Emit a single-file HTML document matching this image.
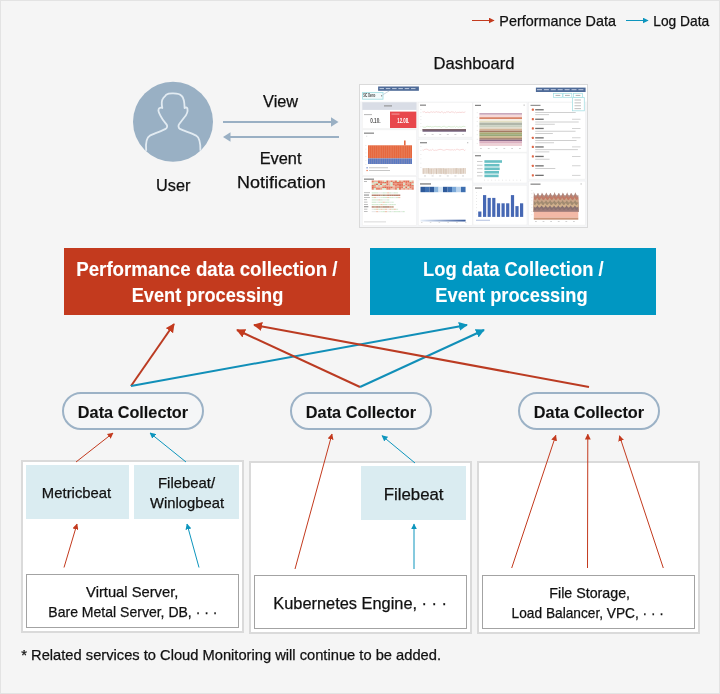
<!DOCTYPE html>
<html><head><meta charset="utf-8">
<style>
html,body{margin:0;padding:0;background:#f5f5f5;}
body{width:720px;height:694px;overflow:hidden;}
svg{display:block;}
text{font-family:"Liberation Sans",sans-serif;}
svg{will-change:transform;}
</style></head>
<body>
<svg width="720" height="694" viewBox="0 0 720 694">
<defs>
  <marker id="mr" viewBox="0 0 10 10" refX="9" refY="5" markerWidth="4.5" markerHeight="4.5" orient="auto" markerUnits="strokeWidth"><path d="M0,0 L10,5 L0,10 z" fill="#c33a1e"/></marker>
  <marker id="mb" viewBox="0 0 10 10" refX="9" refY="5" markerWidth="4.5" markerHeight="4.5" orient="auto" markerUnits="strokeWidth"><path d="M0,0 L10,5 L0,10 z" fill="#0d95bd"/></marker>
  <marker id="mrs" viewBox="0 0 10 10" refX="9" refY="5" markerWidth="6" markerHeight="6" orient="auto" markerUnits="strokeWidth"><path d="M0,0 L10,5 L0,10 z" fill="#c33a1e"/></marker>
  <marker id="mbs" viewBox="0 0 10 10" refX="9" refY="5" markerWidth="6" markerHeight="6" orient="auto" markerUnits="strokeWidth"><path d="M0,0 L10,5 L0,10 z" fill="#0d95bd"/></marker>
</defs>
<!-- background + frame -->
<rect x="0.5" y="0.5" width="719" height="693" fill="#f5f5f5" stroke="#e3e3e3" stroke-width="1"/>

<!-- legend -->
<line x1="472" y1="20.5" x2="494" y2="20.5" stroke="#c33a1e" stroke-width="1" marker-end="url(#mrs)"/>
<line x1="626" y1="20.5" x2="648" y2="20.5" stroke="#0d95bd" stroke-width="1" marker-end="url(#mbs)"/>

<!-- Dashboard label -->

<!-- User -->
<circle cx="173" cy="121.7" r="40" fill="#99b0c4"/>
<path d="M146.2,150.8 C145.5,144 146,138 150,135.6 C155,133 162,131 165.7,128.9 C167.5,127.5 167.5,125.5 166.5,124.5 C164.5,122 162,119 160.4,115.6 C159,113 158,111 158.5,109.5 C159,107.5 161,107.5 162.3,108 C161.5,104 161,101 163,98.5 C164,97 165.2,96.6 166.2,94.7 C168,93.5 171,93.3 173.3,93.4 C177,93.5 180,94 181.5,95.8 C184,98 184.5,102 184.6,108 C185.5,107.3 187,107.2 187.4,108.5 C188,111.5 186.5,115 184.2,117.5 C182.5,120 181,121.5 179.2,124 C178,125.5 178.3,127.8 179.9,128.9 C184,131 191,133 196.1,135.6 C200,138 200.6,144 200.4,150.8" fill="none" stroke="#e2ebf2" stroke-width="1.8" stroke-linejoin="round"/>

<!-- View / Event Notification -->
<line x1="223" y1="122" x2="332" y2="122" stroke="#9ab0c4" stroke-width="2"/>
<path d="M331,117.3 L338.5,122 L331,126.7 z" fill="#9ab0c4"/>
<line x1="230" y1="137" x2="339" y2="137" stroke="#9ab0c4" stroke-width="2"/>
<path d="M230.5,132.3 L223,137 L230.5,141.7 z" fill="#9ab0c4"/>

<!-- DASHBOARD -->
<g id="dash">
<rect x="359.5" y="84.5" width="228" height="143" fill="#f5f6f8" stroke="#dadada" stroke-width="1"/>
<rect x="360.00" y="85.00" width="227.00" height="16.50" fill="#ffffff" />
<rect x="378.10" y="86.50" width="40.80" height="4.30" fill="#4f6b98" />
<rect x="379.50" y="88.00" width="4.50" height="1.10" fill="#b5c3da" />
<rect x="385.80" y="88.00" width="4.50" height="1.10" fill="#b5c3da" />
<rect x="392.10" y="88.00" width="4.50" height="1.10" fill="#b5c3da" />
<rect x="398.40" y="88.00" width="4.50" height="1.10" fill="#b5c3da" />
<rect x="404.70" y="88.00" width="4.50" height="1.10" fill="#b5c3da" />
<rect x="411.00" y="88.00" width="4.50" height="1.10" fill="#b5c3da" />
<rect x="535.90" y="87.60" width="49.70" height="4.40" fill="#4f6b98" />
<rect x="537.00" y="89.10" width="5.00" height="1.10" fill="#b5c3da" />
<rect x="543.90" y="89.10" width="5.00" height="1.10" fill="#b5c3da" />
<rect x="550.80" y="89.10" width="5.00" height="1.10" fill="#b5c3da" />
<rect x="557.70" y="89.10" width="5.00" height="1.10" fill="#b5c3da" />
<rect x="564.60" y="89.10" width="5.00" height="1.10" fill="#b5c3da" />
<rect x="571.50" y="89.10" width="5.00" height="1.10" fill="#b5c3da" />
<rect x="578.40" y="89.10" width="5.00" height="1.10" fill="#b5c3da" />
<rect x="362.6" y="92.4" width="20.4" height="6.8" fill="#f3fbfc" stroke="#9fdde2" stroke-width="0.8"/>
<text x="363.2" y="97.3" font-size="4.6" font-weight="bold" fill="#444" textLength="12" lengthAdjust="spacingAndGlyphs">SIC Demo</text>
<rect x="381.00" y="95.20" width="1.20" height="1.20" fill="#888" />
<path d="M383.2,94.5 L389.5,90.8" stroke="#9ab" stroke-width="0.5" fill="none"/>
<rect x="553.5" y="93.3" width="8.8" height="4" fill="#fff" stroke="#9fdde2" stroke-width="0.7"/>
<rect x="555.50" y="94.90" width="4.80" height="0.90" fill="#aaa" />
<rect x="563" y="93.3" width="8.8" height="4" fill="#fff" stroke="#9fdde2" stroke-width="0.7"/>
<rect x="565.00" y="94.90" width="4.80" height="0.90" fill="#aaa" />
<rect x="573.6" y="93.3" width="8.8" height="4" fill="#fff" stroke="#9fdde2" stroke-width="0.7"/>
<rect x="575.60" y="94.90" width="4.80" height="0.90" fill="#aaa" />
<rect x="362.3" y="102.3" width="54.2" height="26.4" fill="#ffffff" stroke="#ededed" stroke-width="0.5"/>
<rect x="362.3" y="129.9" width="54.2" height="45.6" fill="#ffffff" stroke="#ededed" stroke-width="0.5"/>
<rect x="362.3" y="176.6" width="54.2" height="48.6" fill="#ffffff" stroke="#ededed" stroke-width="0.5"/>
<rect x="418.2" y="102.3" width="54" height="34.8" fill="#ffffff" stroke="#ededed" stroke-width="0.5"/>
<rect x="418.2" y="139.4" width="54" height="39.4" fill="#ffffff" stroke="#ededed" stroke-width="0.5"/>
<rect x="418.2" y="180" width="54" height="45.2" fill="#ffffff" stroke="#ededed" stroke-width="0.5"/>
<rect x="473" y="102.3" width="54" height="49.8" fill="#ffffff" stroke="#ededed" stroke-width="0.5"/>
<rect x="473" y="153" width="54" height="30" fill="#ffffff" stroke="#ededed" stroke-width="0.5"/>
<rect x="473" y="185.2" width="54" height="39.8" fill="#ffffff" stroke="#ededed" stroke-width="0.5"/>
<rect x="528.6" y="102.3" width="56.6" height="76.8" fill="#ffffff" stroke="#ededed" stroke-width="0.5"/>
<rect x="528.6" y="181.1" width="56.6" height="44" fill="#ffffff" stroke="#ededed" stroke-width="0.5"/>
<rect x="362.30" y="102.30" width="54.20" height="7.60" fill="#d9dde6" />
<rect x="384.00" y="105.40" width="8.00" height="1.00" fill="#888" />
<rect x="364.00" y="114.20" width="8.00" height="0.90" fill="#b0b0b0" />
<text x="375.4" y="123.3" font-size="6.3" font-weight="bold" fill="#555" text-anchor="middle" textLength="10.5" lengthAdjust="spacingAndGlyphs">0.10.</text>
<rect x="390.00" y="111.60" width="26.30" height="16.40" fill="#e8474c" />
<rect x="391.50" y="113.60" width="8.00" height="0.90" fill="#f4a9a9" />
<text x="403.3" y="123.3" font-size="6.3" font-weight="bold" fill="#fff" text-anchor="middle" textLength="12" lengthAdjust="spacingAndGlyphs">12.08.</text>
<rect x="364.00" y="132.60" width="10.00" height="1.10" fill="#777" />
<rect x="366.20" y="135.80" width="1.00" height="0.80" fill="#ccc" />
<rect x="368.00" y="145.30" width="44.00" height="13.10" fill="#e6683f" />
<rect x="368.00" y="158.40" width="44.00" height="5.60" fill="#5a7ac2" />
<rect x="369.69" y="145.30" width="0.30" height="18.70" fill="#f3c0a8"  opacity="0.6"/>
<rect x="371.53" y="145.30" width="0.30" height="18.70" fill="#f3c0a8"  opacity="0.6"/>
<rect x="373.37" y="145.30" width="0.30" height="18.70" fill="#f3c0a8"  opacity="0.6"/>
<rect x="375.21" y="145.30" width="0.30" height="18.70" fill="#f3c0a8"  opacity="0.6"/>
<rect x="377.05" y="145.30" width="0.30" height="18.70" fill="#f3c0a8"  opacity="0.6"/>
<rect x="378.89" y="145.30" width="0.30" height="18.70" fill="#f3c0a8"  opacity="0.6"/>
<rect x="380.73" y="145.30" width="0.30" height="18.70" fill="#f3c0a8"  opacity="0.6"/>
<rect x="382.57" y="145.30" width="0.30" height="18.70" fill="#f3c0a8"  opacity="0.6"/>
<rect x="384.41" y="145.30" width="0.30" height="18.70" fill="#f3c0a8"  opacity="0.6"/>
<rect x="386.25" y="145.30" width="0.30" height="18.70" fill="#f3c0a8"  opacity="0.6"/>
<rect x="388.09" y="145.30" width="0.30" height="18.70" fill="#f3c0a8"  opacity="0.6"/>
<rect x="389.93" y="145.30" width="0.30" height="18.70" fill="#f3c0a8"  opacity="0.6"/>
<rect x="391.77" y="145.30" width="0.30" height="18.70" fill="#f3c0a8"  opacity="0.6"/>
<rect x="393.61" y="145.30" width="0.30" height="18.70" fill="#f3c0a8"  opacity="0.6"/>
<rect x="395.45" y="145.30" width="0.30" height="18.70" fill="#f3c0a8"  opacity="0.6"/>
<rect x="397.29" y="145.30" width="0.30" height="18.70" fill="#f3c0a8"  opacity="0.6"/>
<rect x="399.13" y="145.30" width="0.30" height="18.70" fill="#f3c0a8"  opacity="0.6"/>
<rect x="400.97" y="145.30" width="0.30" height="18.70" fill="#f3c0a8"  opacity="0.6"/>
<rect x="402.81" y="145.30" width="0.30" height="18.70" fill="#f3c0a8"  opacity="0.6"/>
<rect x="404.65" y="145.30" width="0.30" height="18.70" fill="#f3c0a8"  opacity="0.6"/>
<rect x="406.49" y="145.30" width="0.30" height="18.70" fill="#f3c0a8"  opacity="0.6"/>
<rect x="408.33" y="145.30" width="0.30" height="18.70" fill="#f3c0a8"  opacity="0.6"/>
<rect x="410.17" y="145.30" width="0.30" height="18.70" fill="#f3c0a8"  opacity="0.6"/>
<rect x="404.00" y="140.50" width="1.60" height="4.90" fill="#e6683f" />
<rect x="365.50" y="145.00" width="0.80" height="0.60" fill="#ccc" />
<rect x="365.50" y="148.80" width="0.80" height="0.60" fill="#ccc" />
<rect x="365.50" y="152.60" width="0.80" height="0.60" fill="#ccc" />
<rect x="365.50" y="156.40" width="0.80" height="0.60" fill="#ccc" />
<rect x="365.50" y="160.20" width="0.80" height="0.60" fill="#ccc" />
<rect x="365.50" y="164.00" width="0.80" height="0.60" fill="#ccc" />
<rect x="366.50" y="167.20" width="1.20" height="1.20" fill="#5a7ac2" />
<rect x="369.00" y="167.40" width="19.00" height="0.80" fill="#b8b8b8" />
<rect x="366.50" y="169.90" width="1.20" height="1.20" fill="#e6683f" />
<rect x="369.00" y="170.10" width="21.00" height="0.80" fill="#b8b8b8" />
<rect x="364.00" y="178.60" width="10.00" height="1.10" fill="#777" />
<rect x="364.00" y="181.20" width="3.00" height="0.80" fill="#aaa" />
<rect x="371.70" y="180.50" width="2.15" height="1.57" fill="#e2765c" />
<rect x="373.80" y="180.50" width="2.15" height="1.57" fill="#ebb29c" />
<rect x="375.90" y="180.50" width="2.15" height="1.57" fill="#ebb29c" />
<rect x="378.00" y="180.50" width="2.15" height="1.57" fill="#e2765c" />
<rect x="380.10" y="180.50" width="2.15" height="1.57" fill="#e8937a" />
<rect x="382.20" y="180.50" width="2.15" height="1.57" fill="#ebb29c" />
<rect x="384.30" y="180.50" width="2.15" height="1.57" fill="#cfe8cc" />
<rect x="386.40" y="180.50" width="2.15" height="1.57" fill="#dd6a50" />
<rect x="388.50" y="180.50" width="2.15" height="1.57" fill="#ebb29c" />
<rect x="390.60" y="180.50" width="2.15" height="1.57" fill="#e2765c" />
<rect x="392.70" y="180.50" width="2.15" height="1.57" fill="#ebb29c" />
<rect x="394.80" y="180.50" width="2.15" height="1.57" fill="#e2765c" />
<rect x="396.90" y="180.50" width="2.15" height="1.57" fill="#cfe8cc" />
<rect x="399.00" y="180.50" width="2.15" height="1.57" fill="#e8937a" />
<rect x="401.10" y="180.50" width="2.15" height="1.57" fill="#ebb29c" />
<rect x="403.20" y="180.50" width="2.15" height="1.57" fill="#e2765c" />
<rect x="405.30" y="180.50" width="2.15" height="1.57" fill="#e2765c" />
<rect x="407.40" y="180.50" width="2.15" height="1.57" fill="#dd6a50" />
<rect x="409.50" y="180.50" width="2.15" height="1.57" fill="#cfe8cc" />
<rect x="411.60" y="180.50" width="2.15" height="1.57" fill="#ebb29c" />
<rect x="371.70" y="182.02" width="2.15" height="1.57" fill="#ebb29c" />
<rect x="373.80" y="182.02" width="2.15" height="1.57" fill="#cfe8cc" />
<rect x="375.90" y="182.02" width="2.15" height="1.57" fill="#cfe8cc" />
<rect x="378.00" y="182.02" width="2.15" height="1.57" fill="#dd6a50" />
<rect x="380.10" y="182.02" width="2.15" height="1.57" fill="#e2765c" />
<rect x="382.20" y="182.02" width="2.15" height="1.57" fill="#e2765c" />
<rect x="384.30" y="182.02" width="2.15" height="1.57" fill="#dd6a50" />
<rect x="386.40" y="182.02" width="2.15" height="1.57" fill="#e2765c" />
<rect x="388.50" y="182.02" width="2.15" height="1.57" fill="#ebb29c" />
<rect x="390.60" y="182.02" width="2.15" height="1.57" fill="#cfe8cc" />
<rect x="392.70" y="182.02" width="2.15" height="1.57" fill="#dd6a50" />
<rect x="394.80" y="182.02" width="2.15" height="1.57" fill="#e2765c" />
<rect x="396.90" y="182.02" width="2.15" height="1.57" fill="#dd6a50" />
<rect x="399.00" y="182.02" width="2.15" height="1.57" fill="#e2765c" />
<rect x="401.10" y="182.02" width="2.15" height="1.57" fill="#e2765c" />
<rect x="403.20" y="182.02" width="2.15" height="1.57" fill="#ebb29c" />
<rect x="405.30" y="182.02" width="2.15" height="1.57" fill="#e2765c" />
<rect x="407.40" y="182.02" width="2.15" height="1.57" fill="#e8937a" />
<rect x="409.50" y="182.02" width="2.15" height="1.57" fill="#e2765c" />
<rect x="411.60" y="182.02" width="2.15" height="1.57" fill="#e8937a" />
<rect x="371.70" y="183.54" width="2.15" height="1.57" fill="#cfe8cc" />
<rect x="373.80" y="183.54" width="2.15" height="1.57" fill="#ebb29c" />
<rect x="375.90" y="183.54" width="2.15" height="1.57" fill="#dd6a50" />
<rect x="378.00" y="183.54" width="2.15" height="1.57" fill="#cfe8cc" />
<rect x="380.10" y="183.54" width="2.15" height="1.57" fill="#dd6a50" />
<rect x="382.20" y="183.54" width="2.15" height="1.57" fill="#cfe8cc" />
<rect x="384.30" y="183.54" width="2.15" height="1.57" fill="#cfe8cc" />
<rect x="386.40" y="183.54" width="2.15" height="1.57" fill="#dd6a50" />
<rect x="388.50" y="183.54" width="2.15" height="1.57" fill="#ebb29c" />
<rect x="390.60" y="183.54" width="2.15" height="1.57" fill="#cfe8cc" />
<rect x="392.70" y="183.54" width="2.15" height="1.57" fill="#e2765c" />
<rect x="394.80" y="183.54" width="2.15" height="1.57" fill="#e8937a" />
<rect x="396.90" y="183.54" width="2.15" height="1.57" fill="#e2765c" />
<rect x="399.00" y="183.54" width="2.15" height="1.57" fill="#e2765c" />
<rect x="401.10" y="183.54" width="2.15" height="1.57" fill="#e2765c" />
<rect x="403.20" y="183.54" width="2.15" height="1.57" fill="#cfe8cc" />
<rect x="405.30" y="183.54" width="2.15" height="1.57" fill="#e2765c" />
<rect x="407.40" y="183.54" width="2.15" height="1.57" fill="#e8937a" />
<rect x="409.50" y="183.54" width="2.15" height="1.57" fill="#dd6a50" />
<rect x="411.60" y="183.54" width="2.15" height="1.57" fill="#cfe8cc" />
<rect x="371.70" y="185.06" width="2.15" height="1.57" fill="#dd6a50" />
<rect x="373.80" y="185.06" width="2.15" height="1.57" fill="#e8937a" />
<rect x="375.90" y="185.06" width="2.15" height="1.57" fill="#cfe8cc" />
<rect x="378.00" y="185.06" width="2.15" height="1.57" fill="#ebb29c" />
<rect x="380.10" y="185.06" width="2.15" height="1.57" fill="#cfe8cc" />
<rect x="382.20" y="185.06" width="2.15" height="1.57" fill="#ebb29c" />
<rect x="384.30" y="185.06" width="2.15" height="1.57" fill="#e8937a" />
<rect x="386.40" y="185.06" width="2.15" height="1.57" fill="#ebb29c" />
<rect x="388.50" y="185.06" width="2.15" height="1.57" fill="#ebb29c" />
<rect x="390.60" y="185.06" width="2.15" height="1.57" fill="#cfe8cc" />
<rect x="392.70" y="185.06" width="2.15" height="1.57" fill="#ebb29c" />
<rect x="394.80" y="185.06" width="2.15" height="1.57" fill="#e2765c" />
<rect x="396.90" y="185.06" width="2.15" height="1.57" fill="#e8937a" />
<rect x="399.00" y="185.06" width="2.15" height="1.57" fill="#dd6a50" />
<rect x="401.10" y="185.06" width="2.15" height="1.57" fill="#e2765c" />
<rect x="403.20" y="185.06" width="2.15" height="1.57" fill="#e8937a" />
<rect x="405.30" y="185.06" width="2.15" height="1.57" fill="#ebb29c" />
<rect x="407.40" y="185.06" width="2.15" height="1.57" fill="#dd6a50" />
<rect x="409.50" y="185.06" width="2.15" height="1.57" fill="#dd6a50" />
<rect x="411.60" y="185.06" width="2.15" height="1.57" fill="#e2765c" />
<rect x="371.70" y="186.58" width="2.15" height="1.57" fill="#dd6a50" />
<rect x="373.80" y="186.58" width="2.15" height="1.57" fill="#e8937a" />
<rect x="375.90" y="186.58" width="2.15" height="1.57" fill="#ebb29c" />
<rect x="378.00" y="186.58" width="2.15" height="1.57" fill="#ebb29c" />
<rect x="380.10" y="186.58" width="2.15" height="1.57" fill="#ebb29c" />
<rect x="382.20" y="186.58" width="2.15" height="1.57" fill="#e2765c" />
<rect x="384.30" y="186.58" width="2.15" height="1.57" fill="#dd6a50" />
<rect x="386.40" y="186.58" width="2.15" height="1.57" fill="#dd6a50" />
<rect x="388.50" y="186.58" width="2.15" height="1.57" fill="#e2765c" />
<rect x="390.60" y="186.58" width="2.15" height="1.57" fill="#dd6a50" />
<rect x="392.70" y="186.58" width="2.15" height="1.57" fill="#ebb29c" />
<rect x="394.80" y="186.58" width="2.15" height="1.57" fill="#e8937a" />
<rect x="396.90" y="186.58" width="2.15" height="1.57" fill="#e8937a" />
<rect x="399.00" y="186.58" width="2.15" height="1.57" fill="#e2765c" />
<rect x="401.10" y="186.58" width="2.15" height="1.57" fill="#e2765c" />
<rect x="403.20" y="186.58" width="2.15" height="1.57" fill="#cfe8cc" />
<rect x="405.30" y="186.58" width="2.15" height="1.57" fill="#dd6a50" />
<rect x="407.40" y="186.58" width="2.15" height="1.57" fill="#cfe8cc" />
<rect x="409.50" y="186.58" width="2.15" height="1.57" fill="#e2765c" />
<rect x="411.60" y="186.58" width="2.15" height="1.57" fill="#e8937a" />
<rect x="371.70" y="188.10" width="2.15" height="1.57" fill="#e2765c" />
<rect x="373.80" y="188.10" width="2.15" height="1.57" fill="#cfe8cc" />
<rect x="375.90" y="188.10" width="2.15" height="1.57" fill="#e2765c" />
<rect x="378.00" y="188.10" width="2.15" height="1.57" fill="#e2765c" />
<rect x="380.10" y="188.10" width="2.15" height="1.57" fill="#e8937a" />
<rect x="382.20" y="188.10" width="2.15" height="1.57" fill="#cfe8cc" />
<rect x="384.30" y="188.10" width="2.15" height="1.57" fill="#cfe8cc" />
<rect x="386.40" y="188.10" width="2.15" height="1.57" fill="#e2765c" />
<rect x="388.50" y="188.10" width="2.15" height="1.57" fill="#e2765c" />
<rect x="390.60" y="188.10" width="2.15" height="1.57" fill="#ebb29c" />
<rect x="392.70" y="188.10" width="2.15" height="1.57" fill="#ebb29c" />
<rect x="394.80" y="188.10" width="2.15" height="1.57" fill="#e2765c" />
<rect x="396.90" y="188.10" width="2.15" height="1.57" fill="#cfe8cc" />
<rect x="399.00" y="188.10" width="2.15" height="1.57" fill="#dd6a50" />
<rect x="401.10" y="188.10" width="2.15" height="1.57" fill="#ebb29c" />
<rect x="403.20" y="188.10" width="2.15" height="1.57" fill="#e8937a" />
<rect x="405.30" y="188.10" width="2.15" height="1.57" fill="#ebb29c" />
<rect x="407.40" y="188.10" width="2.15" height="1.57" fill="#e8937a" />
<rect x="409.50" y="188.10" width="2.15" height="1.57" fill="#ebb29c" />
<rect x="411.60" y="188.10" width="2.15" height="1.57" fill="#e2765c" />
<rect x="364.00" y="192.30" width="6.00" height="0.80" fill="#b0b0b0" />
<rect x="371.70" y="192.30" width="2.20" height="1.10" fill="#cfe9cf" />
<rect x="373.90" y="192.30" width="2.20" height="1.10" fill="#cfe9cf" />
<rect x="376.10" y="192.30" width="2.20" height="1.10" fill="#cfe9cf" />
<rect x="378.30" y="192.30" width="2.20" height="1.10" fill="#e8e8e8" />
<rect x="380.50" y="192.30" width="2.20" height="1.10" fill="#e8e8e8" />
<rect x="382.70" y="192.30" width="2.20" height="1.10" fill="#cfe9cf" />
<rect x="384.90" y="192.30" width="2.20" height="1.10" fill="#d8eed8" />
<rect x="387.10" y="192.30" width="2.20" height="1.10" fill="#f0c4b0" />
<rect x="389.30" y="192.30" width="2.20" height="1.10" fill="#cfe9cf" />
<rect x="391.50" y="192.30" width="2.20" height="1.10" fill="#e8e8e8" />
<rect x="393.70" y="192.30" width="2.20" height="1.10" fill="#cfe9cf" />
<rect x="395.90" y="192.30" width="2.20" height="1.10" fill="#d8eed8" />
<rect x="364.00" y="194.65" width="5.07" height="0.80" fill="#666" />
<rect x="371.70" y="194.65" width="2.20" height="1.10" fill="#a05a40" />
<rect x="373.90" y="194.65" width="2.20" height="1.10" fill="#a05a40" />
<rect x="376.10" y="194.65" width="2.20" height="1.10" fill="#a05a40" />
<rect x="378.30" y="194.65" width="2.20" height="1.10" fill="#a05a40" />
<rect x="380.50" y="194.65" width="2.20" height="1.10" fill="#b08060" />
<rect x="382.70" y="194.65" width="2.20" height="1.10" fill="#8a6a50" />
<rect x="384.90" y="194.65" width="2.20" height="1.10" fill="#b08060" />
<rect x="387.10" y="194.65" width="2.20" height="1.10" fill="#a05a40" />
<rect x="389.30" y="194.65" width="2.20" height="1.10" fill="#a05a40" />
<rect x="391.50" y="194.65" width="2.20" height="1.10" fill="#a05a40" />
<rect x="393.70" y="194.65" width="2.20" height="1.10" fill="#a05a40" />
<rect x="395.90" y="194.65" width="2.20" height="1.10" fill="#a05a40" />
<rect x="398.10" y="194.65" width="2.20" height="1.10" fill="#a05a40" />
<rect x="364.00" y="197.00" width="5.96" height="0.80" fill="#b0b0b0" />
<rect x="371.70" y="197.00" width="2.20" height="1.10" fill="#cfe9cf" />
<rect x="373.90" y="197.00" width="2.20" height="1.10" fill="#f0c4b0" />
<rect x="376.10" y="197.00" width="2.20" height="1.10" fill="#e8e8e8" />
<rect x="378.30" y="197.00" width="2.20" height="1.10" fill="#e8e8e8" />
<rect x="380.50" y="197.00" width="2.20" height="1.10" fill="#d8eed8" />
<rect x="382.70" y="197.00" width="2.20" height="1.10" fill="#cfe9cf" />
<rect x="384.90" y="197.00" width="2.20" height="1.10" fill="#cfe9cf" />
<rect x="387.10" y="197.00" width="2.20" height="1.10" fill="#f0c4b0" />
<rect x="389.30" y="197.00" width="2.20" height="1.10" fill="#cfe9cf" />
<rect x="391.50" y="197.00" width="2.20" height="1.10" fill="#cfe9cf" />
<rect x="393.70" y="197.00" width="2.20" height="1.10" fill="#e8e8e8" />
<rect x="395.90" y="197.00" width="2.20" height="1.10" fill="#cfe9cf" />
<rect x="398.10" y="197.00" width="2.20" height="1.10" fill="#f0c4b0" />
<rect x="364.00" y="199.35" width="3.07" height="0.80" fill="#b0b0b0" />
<rect x="371.70" y="199.35" width="2.20" height="1.10" fill="#cfe9cf" />
<rect x="373.90" y="199.35" width="2.20" height="1.10" fill="#cfe9cf" />
<rect x="376.10" y="199.35" width="2.20" height="1.10" fill="#cfe9cf" />
<rect x="378.30" y="199.35" width="2.20" height="1.10" fill="#f0c4b0" />
<rect x="380.50" y="199.35" width="2.20" height="1.10" fill="#cfe9cf" />
<rect x="382.70" y="199.35" width="2.20" height="1.10" fill="#e8e8e8" />
<rect x="384.90" y="199.35" width="2.20" height="1.10" fill="#e8e8e8" />
<rect x="387.10" y="199.35" width="2.20" height="1.10" fill="#cfe9cf" />
<rect x="364.00" y="201.70" width="3.53" height="0.80" fill="#b0b0b0" />
<rect x="371.70" y="201.70" width="2.20" height="1.10" fill="#cfe9cf" />
<rect x="373.90" y="201.70" width="2.20" height="1.10" fill="#cfe9cf" />
<rect x="376.10" y="201.70" width="2.20" height="1.10" fill="#e8e8e8" />
<rect x="378.30" y="201.70" width="2.20" height="1.10" fill="#cfe9cf" />
<rect x="380.50" y="201.70" width="2.20" height="1.10" fill="#cfe9cf" />
<rect x="382.70" y="201.70" width="2.20" height="1.10" fill="#f0c4b0" />
<rect x="384.90" y="201.70" width="2.20" height="1.10" fill="#cfe9cf" />
<rect x="387.10" y="201.70" width="2.20" height="1.10" fill="#cfe9cf" />
<rect x="389.30" y="201.70" width="2.20" height="1.10" fill="#e8e8e8" />
<rect x="391.50" y="201.70" width="2.20" height="1.10" fill="#d8eed8" />
<rect x="364.00" y="204.05" width="3.93" height="0.80" fill="#b0b0b0" />
<rect x="371.70" y="204.05" width="2.20" height="1.10" fill="#cfe9cf" />
<rect x="373.90" y="204.05" width="2.20" height="1.10" fill="#d8eed8" />
<rect x="376.10" y="204.05" width="2.20" height="1.10" fill="#cfe9cf" />
<rect x="378.30" y="204.05" width="2.20" height="1.10" fill="#d8eed8" />
<rect x="380.50" y="204.05" width="2.20" height="1.10" fill="#f0c4b0" />
<rect x="382.70" y="204.05" width="2.20" height="1.10" fill="#cfe9cf" />
<rect x="384.90" y="204.05" width="2.20" height="1.10" fill="#cfe9cf" />
<rect x="387.10" y="204.05" width="2.20" height="1.10" fill="#e8e8e8" />
<rect x="389.30" y="204.05" width="2.20" height="1.10" fill="#cfe9cf" />
<rect x="391.50" y="204.05" width="2.20" height="1.10" fill="#cfe9cf" />
<rect x="393.70" y="204.05" width="2.20" height="1.10" fill="#d8eed8" />
<rect x="364.00" y="206.40" width="4.32" height="0.80" fill="#666" />
<rect x="371.70" y="206.40" width="2.20" height="1.10" fill="#a05a40" />
<rect x="373.90" y="206.40" width="2.20" height="1.10" fill="#b08060" />
<rect x="376.10" y="206.40" width="2.20" height="1.10" fill="#a05a40" />
<rect x="378.30" y="206.40" width="2.20" height="1.10" fill="#8a6a50" />
<rect x="380.50" y="206.40" width="2.20" height="1.10" fill="#b08060" />
<rect x="382.70" y="206.40" width="2.20" height="1.10" fill="#a05a40" />
<rect x="384.90" y="206.40" width="2.20" height="1.10" fill="#8a6a50" />
<rect x="387.10" y="206.40" width="2.20" height="1.10" fill="#a05a40" />
<rect x="389.30" y="206.40" width="2.20" height="1.10" fill="#b08060" />
<rect x="391.50" y="206.40" width="2.20" height="1.10" fill="#b08060" />
<rect x="364.00" y="208.75" width="3.39" height="0.80" fill="#b0b0b0" />
<rect x="371.70" y="208.75" width="2.20" height="1.10" fill="#e8e8e8" />
<rect x="373.90" y="208.75" width="2.20" height="1.10" fill="#cfe9cf" />
<rect x="376.10" y="208.75" width="2.20" height="1.10" fill="#f0c4b0" />
<rect x="378.30" y="208.75" width="2.20" height="1.10" fill="#cfe9cf" />
<rect x="380.50" y="208.75" width="2.20" height="1.10" fill="#f0c4b0" />
<rect x="382.70" y="208.75" width="2.20" height="1.10" fill="#cfe9cf" />
<rect x="384.90" y="208.75" width="2.20" height="1.10" fill="#f0c4b0" />
<rect x="387.10" y="208.75" width="2.20" height="1.10" fill="#e8e8e8" />
<rect x="389.30" y="208.75" width="2.20" height="1.10" fill="#f0c4b0" />
<rect x="391.50" y="208.75" width="2.20" height="1.10" fill="#cfe9cf" />
<rect x="393.70" y="208.75" width="2.20" height="1.10" fill="#f0c4b0" />
<rect x="395.90" y="208.75" width="2.20" height="1.10" fill="#d8eed8" />
<rect x="364.00" y="211.10" width="3.60" height="0.80" fill="#b0b0b0" />
<rect x="371.70" y="211.10" width="2.20" height="1.10" fill="#e8e8e8" />
<rect x="373.90" y="211.10" width="2.20" height="1.10" fill="#e8e8e8" />
<rect x="376.10" y="211.10" width="2.20" height="1.10" fill="#f0c4b0" />
<rect x="378.30" y="211.10" width="2.20" height="1.10" fill="#e8e8e8" />
<rect x="380.50" y="211.10" width="2.20" height="1.10" fill="#d8eed8" />
<rect x="382.70" y="211.10" width="2.20" height="1.10" fill="#cfe9cf" />
<rect x="384.90" y="211.10" width="2.20" height="1.10" fill="#f0c4b0" />
<rect x="387.10" y="211.10" width="2.20" height="1.10" fill="#e8e8e8" />
<rect x="389.30" y="211.10" width="2.20" height="1.10" fill="#cfe9cf" />
<rect x="391.50" y="211.10" width="2.20" height="1.10" fill="#e8e8e8" />
<rect x="393.70" y="211.10" width="2.20" height="1.10" fill="#cfe9cf" />
<rect x="395.90" y="211.10" width="2.20" height="1.10" fill="#d8eed8" />
<rect x="398.10" y="211.10" width="2.20" height="1.10" fill="#cfe9cf" />
<rect x="400.30" y="211.10" width="2.20" height="1.10" fill="#e8e8e8" />
<rect x="402.50" y="211.10" width="2.20" height="1.10" fill="#cfe9cf" />
<rect x="364.00" y="221.50" width="22.00" height="0.80" fill="#d0d0d0" />
<rect x="420.00" y="104.60" width="6.00" height="1.10" fill="#777" />
<rect x="420.50" y="109.00" width="0.80" height="0.60" fill="#d0d0d0" />
<rect x="420.50" y="112.50" width="0.80" height="0.60" fill="#d0d0d0" />
<rect x="420.50" y="116.00" width="0.80" height="0.60" fill="#d0d0d0" />
<rect x="420.50" y="119.50" width="0.80" height="0.60" fill="#d0d0d0" />
<rect x="420.50" y="123.00" width="0.80" height="0.60" fill="#d0d0d0" />
<rect x="420.50" y="126.50" width="0.80" height="0.60" fill="#d0d0d0" />
<rect x="420.50" y="130.00" width="0.80" height="0.60" fill="#d0d0d0" />
<polyline points="422.5,111.8 423.6,112.0 424.7,111.7 425.8,112.7 426.9,112.3 428.0,111.9 429.1,112.8 430.2,112.2 431.3,111.8 432.4,112.3 433.5,111.8 434.6,112.3 435.7,112.0 436.8,111.7 437.9,112.3 439.0,111.8 440.1,112.8 441.2,111.8 442.3,111.9 443.4,112.9 444.5,112.3 445.6,112.7 446.7,111.8 447.8,112.0 448.9,111.8 450.0,112.8 451.1,111.8 452.2,112.0 453.3,112.0 454.4,112.8 455.5,111.9 456.6,112.8 457.7,112.3 458.8,112.4 459.9,112.2 461.0,112.6 462.1,112.0 463.2,112.4 464.3,112.3 465.4,111.8" fill="none" stroke="#eeb0b0" stroke-width="0.5"/>
<polyline points="422.5,126.6 423.6,127.1 424.7,127.2 425.8,127.1 426.9,126.3 428.0,126.3 429.1,126.8 430.2,126.3 431.3,127.0 432.4,126.8 433.5,126.8 434.6,126.5 435.7,126.4 436.8,126.7 437.9,126.7 439.0,126.6 440.1,126.6 441.2,127.3 442.3,126.7 443.4,126.4 444.5,126.3 445.6,127.0 446.7,127.1 447.8,126.9 448.9,126.3 450.0,126.8 451.1,127.0 452.2,126.8 453.3,126.9 454.4,126.3 455.5,127.2 456.6,126.4 457.7,126.9 458.8,127.1 459.9,126.6 461.0,127.3 462.1,126.7 463.2,126.3 464.3,126.5 465.4,126.6" fill="none" stroke="#b5dca8" stroke-width="0.5"/>
<rect x="422.50" y="129.00" width="43.50" height="2.70" fill="#6e5a7a" />
<rect x="422.50" y="129.40" width="43.50" height="0.90" fill="#8a7060" />
<rect x="424.00" y="134.00" width="2.00" height="0.70" fill="#c0c0c0" />
<rect x="431.60" y="134.00" width="2.00" height="0.70" fill="#c0c0c0" />
<rect x="439.20" y="134.00" width="2.00" height="0.70" fill="#c0c0c0" />
<rect x="446.80" y="134.00" width="2.00" height="0.70" fill="#c0c0c0" />
<rect x="454.40" y="134.00" width="2.00" height="0.70" fill="#c0c0c0" />
<rect x="462.00" y="134.00" width="2.00" height="0.70" fill="#c0c0c0" />
<rect x="420.00" y="142.20" width="7.00" height="1.10" fill="#777" />
<rect x="467.00" y="142.00" width="1.30" height="1.30" fill="#c8c8c8" />
<polyline points="422.5,149.9 423.6,150.2 424.7,149.4 425.8,149.3 426.9,149.1 428.0,149.6 429.1,150.5 430.2,149.9 431.3,150.3 432.4,149.3 433.5,150.1 434.6,150.4 435.7,150.1 436.8,150.3 437.9,149.8 439.0,149.6 440.1,149.3 441.2,149.5 442.3,149.8 443.4,150.2 444.5,150.1 445.6,149.8 446.7,149.4 447.8,149.6 448.9,149.8 450.0,149.9 451.1,150.0 452.2,149.6 453.3,150.2 454.4,149.6 455.5,150.3 456.6,149.1 457.7,149.3 458.8,149.8 459.9,150.1 461.0,149.5 462.1,149.5 463.2,149.2 464.3,150.5 465.4,149.9" fill="none" stroke="#f0b4b4" stroke-width="0.5"/>
<rect x="420.50" y="146.00" width="0.80" height="0.60" fill="#d0d0d0" />
<rect x="420.50" y="150.20" width="0.80" height="0.60" fill="#d0d0d0" />
<rect x="420.50" y="154.40" width="0.80" height="0.60" fill="#d0d0d0" />
<rect x="420.50" y="158.60" width="0.80" height="0.60" fill="#d0d0d0" />
<rect x="420.50" y="162.80" width="0.80" height="0.60" fill="#d0d0d0" />
<rect x="420.50" y="167.00" width="0.80" height="0.60" fill="#d0d0d0" />
<rect x="422.50" y="168.00" width="43.50" height="5.80" fill="#ece4dc" />
<rect x="422.80" y="168.42" width="0.90" height="5.50" fill="#d8c4b4" />
<rect x="424.48" y="168.09" width="0.90" height="5.50" fill="#e2d2c4" />
<rect x="426.16" y="168.08" width="0.90" height="5.50" fill="#e2d2c4" />
<rect x="427.84" y="168.05" width="0.90" height="5.50" fill="#cdb9a8" />
<rect x="429.52" y="168.70" width="0.90" height="5.50" fill="#d8c4b4" />
<rect x="431.20" y="168.66" width="0.90" height="5.50" fill="#d8c4b4" />
<rect x="432.88" y="168.80" width="0.90" height="5.50" fill="#e2d2c4" />
<rect x="434.56" y="168.20" width="0.90" height="5.50" fill="#e2d2c4" />
<rect x="436.24" y="168.56" width="0.90" height="5.50" fill="#cdb9a8" />
<rect x="437.92" y="168.20" width="0.90" height="5.50" fill="#e2d2c4" />
<rect x="439.60" y="168.32" width="0.90" height="5.50" fill="#cdb9a8" />
<rect x="441.28" y="168.45" width="0.90" height="5.50" fill="#d8c4b4" />
<rect x="442.96" y="168.30" width="0.90" height="5.50" fill="#d8c4b4" />
<rect x="444.64" y="168.78" width="0.90" height="5.50" fill="#cdb9a8" />
<rect x="446.32" y="168.67" width="0.90" height="5.50" fill="#d8c4b4" />
<rect x="448.00" y="168.33" width="0.90" height="5.50" fill="#e2d2c4" />
<rect x="449.68" y="168.60" width="0.90" height="5.50" fill="#e2d2c4" />
<rect x="451.36" y="168.74" width="0.90" height="5.50" fill="#e2d2c4" />
<rect x="453.04" y="168.39" width="0.90" height="5.50" fill="#e2d2c4" />
<rect x="454.72" y="168.32" width="0.90" height="5.50" fill="#d8c4b4" />
<rect x="456.40" y="168.13" width="0.90" height="5.50" fill="#cdb9a8" />
<rect x="458.08" y="168.60" width="0.90" height="5.50" fill="#e2d2c4" />
<rect x="459.76" y="168.41" width="0.90" height="5.50" fill="#cdb9a8" />
<rect x="461.44" y="168.47" width="0.90" height="5.50" fill="#d8c4b4" />
<rect x="463.12" y="168.11" width="0.90" height="5.50" fill="#d8c4b4" />
<rect x="464.80" y="168.12" width="0.90" height="5.50" fill="#e2d2c4" />
<rect x="424.00" y="175.60" width="2.00" height="0.70" fill="#c0c0c0" />
<rect x="431.60" y="175.60" width="2.00" height="0.70" fill="#c0c0c0" />
<rect x="439.20" y="175.60" width="2.00" height="0.70" fill="#c0c0c0" />
<rect x="446.80" y="175.60" width="2.00" height="0.70" fill="#c0c0c0" />
<rect x="454.40" y="175.60" width="2.00" height="0.70" fill="#c0c0c0" />
<rect x="462.00" y="175.60" width="2.00" height="0.70" fill="#c0c0c0" />
<rect x="420.00" y="183.40" width="11.00" height="1.10" fill="#666" />
<rect x="420.50" y="186.80" width="4.55" height="5.40" fill="#2e5a9a" />
<rect x="425.00" y="186.80" width="4.55" height="5.40" fill="#3e6fb0" />
<rect x="429.50" y="186.80" width="4.55" height="5.40" fill="#2e5a9a" />
<rect x="434.00" y="186.80" width="4.55" height="5.40" fill="#8ab4dc" />
<rect x="438.50" y="186.80" width="4.55" height="5.40" fill="#d6e6f4" />
<rect x="443.00" y="186.80" width="4.55" height="5.40" fill="#2e5a9a" />
<rect x="447.50" y="186.80" width="4.55" height="5.40" fill="#3e6fb0" />
<rect x="452.00" y="186.80" width="4.55" height="5.40" fill="#7aa8d8" />
<rect x="456.50" y="186.80" width="4.55" height="5.40" fill="#b8d2ec" />
<rect x="461.00" y="186.80" width="4.55" height="5.40" fill="#3e6fb0" />
<defs><linearGradient id="gg" x1="0" x2="1"><stop offset="0" stop-color="#e8f0fa"/><stop offset="1" stop-color="#38599a"/></linearGradient></defs>
<rect x="420.50" y="219.70" width="45.10" height="1.80" fill="url(#gg)" />
<rect x="421.00" y="222.20" width="1.50" height="0.60" fill="#c8c8c8" />
<rect x="429.80" y="222.20" width="1.50" height="0.60" fill="#c8c8c8" />
<rect x="438.60" y="222.20" width="1.50" height="0.60" fill="#c8c8c8" />
<rect x="447.40" y="222.20" width="1.50" height="0.60" fill="#c8c8c8" />
<rect x="456.20" y="222.20" width="1.50" height="0.60" fill="#c8c8c8" />
<rect x="465.00" y="222.20" width="1.50" height="0.60" fill="#c8c8c8" />
<rect x="475.00" y="104.80" width="6.00" height="1.10" fill="#777" />
<rect x="523.50" y="104.50" width="1.30" height="1.30" fill="#c8c8c8" />
<rect x="479.40" y="113.00" width="42.60" height="1.80" fill="#c8a8bc" />
<rect x="479.40" y="114.80" width="42.60" height="2.40" fill="#f6d8d8" />
<rect x="479.40" y="117.20" width="42.60" height="2.00" fill="#d88468" />
<rect x="479.40" y="119.20" width="42.60" height="1.60" fill="#f4ede4" />
<rect x="479.40" y="120.80" width="42.60" height="1.80" fill="#e4e0c4" />
<rect x="479.40" y="122.60" width="42.60" height="2.60" fill="#b0b6aa" />
<rect x="479.40" y="125.20" width="42.60" height="2.00" fill="#c9d0c0" />
<rect x="479.40" y="127.20" width="42.60" height="1.60" fill="#dcd8c8" />
<rect x="479.40" y="128.80" width="42.60" height="1.80" fill="#d6b498" />
<rect x="479.40" y="130.60" width="42.60" height="1.80" fill="#a47a64" />
<rect x="479.40" y="132.40" width="42.60" height="1.80" fill="#a9ab74" />
<rect x="479.40" y="134.20" width="42.60" height="2.00" fill="#98a878" />
<rect x="479.40" y="136.20" width="42.60" height="1.80" fill="#cbb58c" />
<rect x="479.40" y="138.00" width="42.60" height="1.80" fill="#a88878" />
<rect x="479.40" y="139.80" width="42.60" height="1.40" fill="#8a6a88" />
<rect x="479.40" y="141.20" width="42.60" height="2.40" fill="#dcb0c0" />
<rect x="479.40" y="143.60" width="42.60" height="2.40" fill="#eed2d6" />
<rect x="476.80" y="112.50" width="0.80" height="0.60" fill="#ccc" />
<rect x="476.80" y="116.90" width="0.80" height="0.60" fill="#ccc" />
<rect x="476.80" y="121.30" width="0.80" height="0.60" fill="#ccc" />
<rect x="476.80" y="125.70" width="0.80" height="0.60" fill="#ccc" />
<rect x="476.80" y="130.10" width="0.80" height="0.60" fill="#ccc" />
<rect x="476.80" y="134.50" width="0.80" height="0.60" fill="#ccc" />
<rect x="476.80" y="138.90" width="0.80" height="0.60" fill="#ccc" />
<rect x="476.80" y="143.30" width="0.80" height="0.60" fill="#ccc" />
<rect x="480.00" y="148.00" width="1.80" height="0.70" fill="#c0c0c0" />
<rect x="487.80" y="148.00" width="1.80" height="0.70" fill="#c0c0c0" />
<rect x="495.60" y="148.00" width="1.80" height="0.70" fill="#c0c0c0" />
<rect x="503.40" y="148.00" width="1.80" height="0.70" fill="#c0c0c0" />
<rect x="511.20" y="148.00" width="1.80" height="0.70" fill="#c0c0c0" />
<rect x="519.00" y="148.00" width="1.80" height="0.70" fill="#c0c0c0" />
<rect x="475.00" y="155.20" width="6.00" height="1.10" fill="#777" />
<rect x="484.40" y="160.20" width="17.60" height="2.60" fill="#68c0c4" />
<rect x="477.00" y="161.10" width="5.50" height="0.80" fill="#c0c0c0" />
<rect x="484.40" y="163.90" width="15.10" height="2.60" fill="#68c0c4" />
<rect x="477.00" y="164.80" width="5.50" height="0.80" fill="#c0c0c0" />
<rect x="484.40" y="167.50" width="15.30" height="2.60" fill="#68c0c4" />
<rect x="477.00" y="168.40" width="5.50" height="0.80" fill="#c0c0c0" />
<rect x="484.40" y="171.00" width="14.60" height="2.60" fill="#68c0c4" />
<rect x="477.00" y="171.90" width="5.50" height="0.80" fill="#c0c0c0" />
<rect x="484.40" y="174.60" width="14.20" height="2.60" fill="#68c0c4" />
<rect x="477.00" y="175.50" width="5.50" height="0.80" fill="#c0c0c0" />
<rect x="484.00" y="179.80" width="0.90" height="0.60" fill="#d0d0d0" />
<rect x="487.60" y="179.80" width="0.90" height="0.60" fill="#d0d0d0" />
<rect x="491.20" y="179.80" width="0.90" height="0.60" fill="#d0d0d0" />
<rect x="494.80" y="179.80" width="0.90" height="0.60" fill="#d0d0d0" />
<rect x="498.40" y="179.80" width="0.90" height="0.60" fill="#d0d0d0" />
<rect x="502.00" y="179.80" width="0.90" height="0.60" fill="#d0d0d0" />
<rect x="505.60" y="179.80" width="0.90" height="0.60" fill="#d0d0d0" />
<rect x="509.20" y="179.80" width="0.90" height="0.60" fill="#d0d0d0" />
<rect x="512.80" y="179.80" width="0.90" height="0.60" fill="#d0d0d0" />
<rect x="516.40" y="179.80" width="0.90" height="0.60" fill="#d0d0d0" />
<rect x="520.00" y="179.80" width="0.90" height="0.60" fill="#d0d0d0" />
<rect x="475.00" y="187.50" width="7.00" height="1.10" fill="#666" />
<rect x="478.20" y="211.50" width="3.20" height="5.40" fill="#4668b4" />
<rect x="483.00" y="195.10" width="3.20" height="21.80" fill="#4668b4" />
<rect x="487.60" y="197.90" width="3.20" height="19.00" fill="#4668b4" />
<rect x="492.20" y="197.90" width="3.20" height="19.00" fill="#4668b4" />
<rect x="496.90" y="203.30" width="3.20" height="13.60" fill="#4668b4" />
<rect x="501.50" y="203.30" width="3.20" height="13.60" fill="#4668b4" />
<rect x="506.10" y="203.30" width="3.20" height="13.60" fill="#4668b4" />
<rect x="510.90" y="195.10" width="3.20" height="21.80" fill="#4668b4" />
<rect x="515.40" y="206.10" width="3.20" height="10.80" fill="#4668b4" />
<rect x="520.00" y="203.30" width="3.20" height="13.60" fill="#4668b4" />
<rect x="476.00" y="192.00" width="0.80" height="0.60" fill="#d0d0d0" />
<rect x="476.00" y="195.10" width="0.80" height="0.60" fill="#d0d0d0" />
<rect x="476.00" y="198.20" width="0.80" height="0.60" fill="#d0d0d0" />
<rect x="476.00" y="201.30" width="0.80" height="0.60" fill="#d0d0d0" />
<rect x="476.00" y="204.40" width="0.80" height="0.60" fill="#d0d0d0" />
<rect x="476.00" y="207.50" width="0.80" height="0.60" fill="#d0d0d0" />
<rect x="476.00" y="210.60" width="0.80" height="0.60" fill="#d0d0d0" />
<rect x="476.00" y="213.70" width="0.80" height="0.60" fill="#d0d0d0" />
<rect x="476.00" y="219.80" width="14.00" height="0.80" fill="#9fb0d8" />
<rect x="530.50" y="104.80" width="10.00" height="1.10" fill="#888" />
<rect x="531.8" y="108.6" width="2.1" height="2.2" rx="0.6" fill="#e06848"/>
<rect x="535.20" y="109.10" width="8.50" height="1.30" fill="#707070" />
<rect x="535.20" y="112.10" width="40.52" height="0.80" fill="#c4c4c4" />
<rect x="535.20" y="114.30" width="13.86" height="0.80" fill="#c4c4c4" />
<rect x="531.8" y="118.1" width="2.1" height="2.2" rx="0.6" fill="#e06848"/>
<rect x="535.20" y="118.60" width="8.50" height="1.30" fill="#707070" />
<rect x="572.00" y="118.80" width="8.50" height="0.80" fill="#c8c8c8" />
<rect x="535.20" y="121.60" width="43.53" height="0.80" fill="#c4c4c4" />
<rect x="535.20" y="123.80" width="19.63" height="0.80" fill="#c4c4c4" />
<rect x="531.8" y="127.3" width="2.1" height="2.2" rx="0.6" fill="#e06848"/>
<rect x="535.20" y="127.80" width="8.50" height="1.30" fill="#707070" />
<rect x="572.00" y="128.00" width="8.50" height="0.80" fill="#c8c8c8" />
<rect x="535.20" y="130.80" width="40.37" height="0.80" fill="#c4c4c4" />
<rect x="535.20" y="133.00" width="17.64" height="0.80" fill="#c4c4c4" />
<rect x="531.8" y="136.7" width="2.1" height="2.2" rx="0.6" fill="#e06848"/>
<rect x="535.20" y="137.20" width="8.50" height="1.30" fill="#707070" />
<rect x="572.00" y="137.40" width="8.50" height="0.80" fill="#c8c8c8" />
<rect x="535.20" y="140.20" width="41.31" height="0.80" fill="#c4c4c4" />
<rect x="535.20" y="142.40" width="18.83" height="0.80" fill="#c4c4c4" />
<rect x="531.8" y="145.8" width="2.1" height="2.2" rx="0.6" fill="#e06848"/>
<rect x="535.20" y="146.30" width="8.50" height="1.30" fill="#707070" />
<rect x="572.00" y="146.50" width="8.50" height="0.80" fill="#c8c8c8" />
<rect x="535.20" y="149.30" width="42.68" height="0.80" fill="#c4c4c4" />
<rect x="535.20" y="151.50" width="14.14" height="0.80" fill="#c4c4c4" />
<rect x="531.8" y="155.3" width="2.1" height="2.2" rx="0.6" fill="#e06848"/>
<rect x="535.20" y="155.80" width="8.50" height="1.30" fill="#707070" />
<rect x="572.00" y="156.00" width="8.50" height="0.80" fill="#c8c8c8" />
<rect x="535.20" y="158.80" width="14.37" height="0.80" fill="#c4c4c4" />
<rect x="531.8" y="164.7" width="2.1" height="2.2" rx="0.6" fill="#e06848"/>
<rect x="535.20" y="165.20" width="8.50" height="1.30" fill="#707070" />
<rect x="572.00" y="165.40" width="8.50" height="0.80" fill="#c8c8c8" />
<rect x="535.20" y="168.20" width="20.12" height="0.80" fill="#c4c4c4" />
<rect x="531.8" y="174.2" width="2.1" height="2.2" rx="0.6" fill="#e06848"/>
<rect x="535.20" y="174.70" width="8.50" height="1.30" fill="#707070" />
<rect x="572.00" y="174.90" width="8.50" height="0.80" fill="#c8c8c8" />
<rect x="572.5" y="97.6" width="11.8" height="13.2" fill="#fff" stroke="#a8e0e4" stroke-width="0.8"/>
<rect x="574.50" y="99.60" width="6.50" height="0.80" fill="#b0b0b0" />
<rect x="574.50" y="102.50" width="6.50" height="0.80" fill="#b0b0b0" />
<rect x="574.50" y="105.40" width="6.50" height="0.80" fill="#b0b0b0" />
<rect x="574.50" y="108.30" width="6.50" height="0.80" fill="#b0b0b0" />
<rect x="530.50" y="183.60" width="10.00" height="1.10" fill="#777" />
<rect x="580.50" y="183.30" width="1.30" height="1.30" fill="#c8c8c8" />
<rect x="531.50" y="190.00" width="0.80" height="0.60" fill="#d0d0d0" />
<rect x="531.50" y="193.50" width="0.80" height="0.60" fill="#d0d0d0" />
<rect x="531.50" y="197.00" width="0.80" height="0.60" fill="#d0d0d0" />
<rect x="531.50" y="200.50" width="0.80" height="0.60" fill="#d0d0d0" />
<rect x="531.50" y="204.00" width="0.80" height="0.60" fill="#d0d0d0" />
<rect x="531.50" y="207.50" width="0.80" height="0.60" fill="#d0d0d0" />
<rect x="531.50" y="211.00" width="0.80" height="0.60" fill="#d0d0d0" />
<rect x="531.50" y="214.50" width="0.80" height="0.60" fill="#d0d0d0" />
<path d="M533.80,192.00 L534.54,194.09 L535.28,195.28 L536.02,195.49 L536.77,194.94 L537.51,193.35 L538.25,192.89 L538.99,194.68 L539.73,195.45 L540.47,195.40 L541.22,194.44 L541.96,192.51 L542.70,193.69 L543.44,195.11 L544.18,195.50 L544.92,195.15 L545.67,193.79 L546.41,192.40 L547.15,194.37 L547.89,195.37 L548.63,195.47 L549.38,194.75 L550.12,193.00 L550.86,193.25 L551.60,194.89 L552.34,195.49 L553.08,195.31 L553.82,194.17 L554.57,192.12 L555.31,194.00 L556.05,195.25 L556.79,195.50 L557.53,195.00 L558.27,193.46 L559.02,192.78 L559.76,194.61 L560.50,195.44 L561.24,195.42 L561.98,194.52 L562.72,192.62 L563.47,193.59 L564.21,195.07 L564.95,195.50 L565.69,195.19 L566.43,193.88 L567.17,192.28 L567.92,194.29 L568.66,195.35 L569.40,195.48 L570.14,194.81 L570.88,193.10 L571.62,193.15 L572.37,194.83 L573.11,195.48 L573.85,195.34 L574.59,194.26 L575.33,192.23 L576.07,193.91 L576.82,195.21 L577.56,195.50 L578.30,195.05 L578.3,212 L533.8,212 Z" fill="#b08a80"/>
<path d="M533.80,195.53 L534.54,196.95 L535.28,197.49 L536.02,197.35 L536.77,196.40 L537.51,194.65 L538.25,196.18 L538.99,197.27 L539.73,197.50 L540.47,197.09 L541.22,195.79 L541.96,195.12 L542.70,196.71 L543.44,197.44 L544.18,197.44 L544.92,196.69 L545.67,195.08 L546.41,195.83 L547.15,197.11 L547.89,197.50 L548.63,197.25 L549.38,196.15 L550.12,194.69 L550.86,196.43 L551.60,197.36 L552.34,197.48 L553.08,196.93 L553.82,195.49 L554.57,195.44 L555.31,196.90 L556.05,197.48 L556.79,197.37 L557.53,196.47 L558.27,194.75 L559.02,196.10 L559.76,197.24 L560.50,197.50 L561.24,197.13 L561.98,195.87 L562.72,195.03 L563.47,196.65 L564.21,197.43 L564.95,197.45 L565.69,196.75 L566.43,195.18 L567.17,195.74 L567.92,197.07 L568.66,197.50 L569.40,197.28 L570.14,196.22 L570.88,194.59 L571.62,196.36 L572.37,197.34 L573.11,197.49 L573.85,196.98 L574.59,195.58 L575.33,195.35 L576.07,196.85 L576.82,197.47 L577.56,197.39 L578.30,196.53 L578.3,212 L533.8,212 Z" fill="#c27a66"/>
<path d="M533.80,198.97 L534.54,199.86 L535.28,199.99 L536.02,199.49 L536.77,198.17 L537.51,198.03 L538.25,199.42 L538.99,199.98 L539.73,199.89 L540.47,199.07 L541.22,197.48 L541.96,198.66 L542.70,199.74 L543.44,200.00 L544.18,199.67 L544.92,198.52 L545.67,197.65 L546.41,199.18 L547.15,199.92 L547.89,199.96 L548.63,199.32 L549.38,197.87 L550.12,198.32 L550.86,199.57 L551.60,200.00 L552.34,199.81 L553.08,198.84 L553.82,197.24 L554.57,198.90 L555.31,199.83 L556.05,199.99 L556.79,199.54 L557.53,198.25 L558.27,197.95 L559.02,199.37 L559.76,199.97 L560.50,199.91 L561.24,199.13 L561.98,197.57 L562.72,198.59 L563.47,199.70 L564.21,200.00 L564.95,199.71 L565.69,198.60 L566.43,197.56 L567.17,199.12 L567.92,199.91 L568.66,199.97 L569.40,199.37 L570.14,197.96 L570.88,198.24 L571.62,199.53 L572.37,199.99 L573.11,199.84 L573.85,198.91 L574.59,197.25 L575.33,198.83 L576.07,199.81 L576.82,200.00 L577.56,199.58 L578.30,198.33 L578.3,212 L533.8,212 Z" fill="#c8a488"/>
<path d="M533.80,200.51 L534.54,201.86 L535.28,202.46 L536.02,202.43 L536.77,201.75 L537.51,200.33 L538.25,201.11 L538.99,202.19 L539.73,202.50 L540.47,202.26 L541.22,201.27 L541.96,200.14 L542.70,201.62 L543.44,202.39 L544.18,202.48 L544.92,201.97 L545.67,200.69 L546.41,200.78 L547.15,202.02 L547.89,202.49 L548.63,202.37 L549.38,201.56 L550.12,200.04 L550.86,201.34 L551.60,202.29 L552.34,202.50 L553.08,202.15 L553.82,201.03 L554.57,200.42 L555.31,201.81 L556.05,202.45 L556.79,202.45 L557.53,201.80 L558.27,200.42 L559.02,201.04 L559.76,202.15 L560.50,202.50 L561.24,202.29 L561.98,201.34 L562.72,200.05 L563.47,201.56 L564.21,202.38 L564.95,202.49 L565.69,202.01 L566.43,200.77 L567.17,200.70 L567.92,201.97 L568.66,202.48 L569.40,202.39 L570.14,201.61 L570.88,200.13 L571.62,201.28 L572.37,202.27 L573.11,202.50 L573.85,202.19 L574.59,201.10 L575.33,200.34 L576.07,201.76 L576.82,202.43 L577.56,202.46 L578.30,201.86 L578.3,212 L533.8,212 Z" fill="#a08a70"/>
<path d="M533.80,204.60 L534.54,204.99 L535.28,204.84 L536.02,204.00 L536.77,202.50 L537.51,203.99 L538.25,204.84 L538.99,204.99 L539.73,204.61 L540.47,203.47 L541.22,203.13 L541.96,204.41 L542.70,204.97 L543.44,204.93 L544.18,204.25 L544.92,202.87 L545.67,203.70 L546.41,204.72 L547.15,205.00 L547.89,204.75 L548.63,203.78 L549.38,202.78 L550.12,204.19 L550.86,204.91 L551.60,204.98 L552.34,204.46 L553.08,203.22 L553.82,203.39 L554.57,204.56 L555.31,204.99 L556.05,204.87 L556.79,204.06 L557.53,202.59 L558.27,203.93 L559.02,204.82 L559.76,205.00 L560.50,204.64 L561.24,203.54 L561.98,203.05 L562.72,204.36 L563.47,204.96 L564.21,204.94 L564.95,204.30 L565.69,202.95 L566.43,203.64 L567.17,204.69 L567.92,205.00 L568.66,204.78 L569.40,203.84 L570.14,202.70 L570.88,204.13 L571.62,204.89 L572.37,204.98 L573.11,204.51 L573.85,203.29 L574.59,203.32 L575.33,204.52 L576.07,204.99 L576.82,204.89 L577.56,204.11 L578.30,202.67 L578.3,212 L533.8,212 Z" fill="#d0b08c"/>
<path d="M533.80,206.17 L534.54,207.19 L535.28,207.50 L536.02,207.30 L536.77,206.41 L537.51,205.27 L538.25,206.65 L538.99,207.39 L539.73,207.49 L540.47,207.04 L541.22,205.88 L541.96,205.86 L542.70,207.03 L543.44,207.48 L544.18,207.40 L544.92,206.66 L545.67,205.29 L546.41,206.39 L547.15,207.29 L547.89,207.50 L548.63,207.20 L549.38,206.19 L550.12,205.53 L550.86,206.83 L551.60,207.44 L552.34,207.46 L553.08,206.89 L553.82,205.63 L554.57,206.10 L555.31,207.16 L556.05,207.50 L556.79,207.32 L557.53,206.47 L558.27,205.19 L559.02,206.60 L559.76,207.37 L560.50,207.49 L561.24,207.08 L561.98,205.95 L562.72,205.79 L563.47,206.99 L564.21,207.48 L564.95,207.41 L565.69,206.72 L566.43,205.36 L567.17,206.33 L567.92,207.27 L568.66,207.50 L569.40,207.23 L570.14,206.25 L570.88,205.46 L571.62,206.78 L572.37,207.43 L573.11,207.47 L573.85,206.93 L574.59,205.70 L575.33,206.04 L576.07,207.12 L576.82,207.50 L577.56,207.35 L578.30,206.53 L578.3,212 L533.8,212 Z" fill="#887070"/>
<path d="M533.80,209.36 L534.54,209.94 L535.28,209.97 L536.02,209.46 L536.77,208.32 L537.51,208.69 L538.25,209.67 L538.99,210.00 L539.73,209.85 L540.47,209.08 L541.22,207.84 L541.96,209.15 L542.70,209.87 L543.44,209.99 L544.18,209.63 L544.92,208.61 L545.67,208.40 L546.41,209.51 L547.15,209.98 L547.89,209.93 L548.63,209.31 L549.38,208.08 L550.12,208.90 L550.86,209.77 L551.60,210.00 L552.34,209.77 L553.08,208.89 L553.82,208.09 L554.57,209.32 L555.31,209.93 L556.05,209.97 L556.79,209.50 L557.53,208.39 L558.27,208.63 L559.02,209.64 L559.76,209.99 L560.50,209.87 L561.24,209.13 L561.98,207.83 L562.72,209.09 L563.47,209.85 L564.21,210.00 L564.95,209.66 L565.69,208.68 L566.43,208.33 L567.17,209.47 L567.92,209.97 L568.66,209.94 L569.40,209.35 L570.14,208.15 L570.88,208.84 L571.62,209.74 L572.37,210.00 L573.11,209.79 L573.85,208.95 L574.59,208.02 L575.33,209.27 L576.07,209.91 L576.82,209.98 L577.56,209.54 L578.30,208.45 L578.3,212 L533.8,212 Z" fill="#9a7a78"/>
<rect x="533.80" y="211.80" width="44.50" height="5.90" fill="#f3b9a6" />
<rect x="533.80" y="217.70" width="44.50" height="2.00" fill="#c99478" />
<rect x="535.00" y="221.00" width="1.80" height="0.70" fill="#c0c0c0" />
<rect x="542.60" y="221.00" width="1.80" height="0.70" fill="#c0c0c0" />
<rect x="550.20" y="221.00" width="1.80" height="0.70" fill="#c0c0c0" />
<rect x="557.80" y="221.00" width="1.80" height="0.70" fill="#c0c0c0" />
<rect x="565.40" y="221.00" width="1.80" height="0.70" fill="#c0c0c0" />
<rect x="573.00" y="221.00" width="1.80" height="0.70" fill="#c0c0c0" />

</g>

<!-- Big boxes -->
<rect x="64" y="248" width="286" height="67" fill="#c33a1e"/>
<rect x="370" y="248" width="286" height="67" fill="#0097c2"/>

<!-- big arrows -->
<g stroke-width="2" fill="none">
<line x1="131" y1="386" x2="174" y2="324" stroke="#bb3b22" marker-end="url(#mr)"/>
<line x1="131" y1="386" x2="467" y2="325" stroke="#118fb8" marker-end="url(#mb)"/>
<line x1="360" y1="387" x2="237" y2="330" stroke="#bb3b22" marker-end="url(#mr)"/>
<line x1="360" y1="387" x2="484" y2="330" stroke="#118fb8" marker-end="url(#mb)"/>
<line x1="589" y1="387" x2="254" y2="325" stroke="#bb3b22" marker-end="url(#mr)"/>
</g>

<!-- Data collectors -->
<g fill="#f5f6f7" stroke="#9cb2c6" stroke-width="2">
<rect x="63" y="393" width="140" height="36" rx="18"/>
<rect x="291" y="393" width="140" height="36" rx="18"/>
<rect x="519" y="393" width="140" height="36" rx="18"/>
</g>

<!-- containers -->
<g fill="#ffffff" stroke="#dadada" stroke-width="2">
<rect x="22" y="461" width="221" height="171"/>
<rect x="250" y="462" width="221" height="171"/>
<rect x="478" y="462" width="221" height="171"/>
</g>
<g fill="#daecf1">
<rect x="26" y="465" width="103" height="54"/>
<rect x="134" y="465" width="105" height="54"/>
<rect x="361" y="466" width="105" height="54"/>
</g>
<g fill="#ffffff" stroke="#a3a3a3" stroke-width="1">
<rect x="26.5" y="574.5" width="212" height="53"/>
<rect x="254.5" y="575.5" width="212" height="53"/>
<rect x="482.5" y="575.5" width="212" height="53"/>
</g>

<!-- small arrows -->
<g stroke-width="1" fill="none">
<line x1="76" y1="462" x2="113" y2="433" stroke="#c33a1e" marker-end="url(#mrs)"/>
<line x1="186" y1="462" x2="150" y2="433" stroke="#0d95bd" marker-end="url(#mbs)"/>
<line x1="64" y1="567.5" x2="77" y2="524" stroke="#c33a1e" marker-end="url(#mrs)"/>
<line x1="199" y1="567.5" x2="187" y2="524" stroke="#0d95bd" marker-end="url(#mbs)"/>
<line x1="295" y1="569" x2="332" y2="434" stroke="#c33a1e" marker-end="url(#mrs)"/>
<line x1="415" y1="463" x2="382" y2="435.7" stroke="#0d95bd" marker-end="url(#mbs)"/>
<line x1="414" y1="569" x2="414" y2="524" stroke="#0d95bd" marker-end="url(#mbs)"/>
<line x1="511.7" y1="568" x2="555.8" y2="435.3" stroke="#c33a1e" marker-end="url(#mrs)"/>
<line x1="587.5" y1="568" x2="587.8" y2="434.2" stroke="#c33a1e" marker-end="url(#mrs)"/>
<line x1="663.3" y1="568" x2="619.5" y2="435.8" stroke="#c33a1e" marker-end="url(#mrs)"/>
</g>

<!-- container texts -->

<!-- footer -->
<text x="499.38" y="25.7" font-size="14.2" font-weight="normal" fill="#111" stroke="#111" stroke-width="0.25" textLength="116.54" lengthAdjust="spacingAndGlyphs">Performance Data</text>
<text x="653.28" y="25.7" font-size="14.2" font-weight="normal" fill="#111" stroke="#111" stroke-width="0.25" textLength="55.95" lengthAdjust="spacingAndGlyphs">Log Data</text>
<text x="433.46" y="69" font-size="16.2" font-weight="normal" fill="#111" stroke="#111" stroke-width="0.25" textLength="81.09" lengthAdjust="spacingAndGlyphs">Dashboard</text>
<text x="263.07" y="106.8" font-size="16" font-weight="normal" fill="#111" stroke="#111" stroke-width="0.25" textLength="35.06" lengthAdjust="spacingAndGlyphs">View</text>
<text x="259.67" y="163.8" font-size="16" font-weight="normal" fill="#111" stroke="#111" stroke-width="0.25" textLength="41.86" lengthAdjust="spacingAndGlyphs">Event</text>
<text x="237.14" y="187.5" font-size="16" font-weight="normal" fill="#111" stroke="#111" stroke-width="0.25" textLength="88.72" lengthAdjust="spacingAndGlyphs">Notification</text>
<text x="156.09" y="190.6" font-size="16" font-weight="normal" fill="#111" stroke="#111" stroke-width="0.25" textLength="34.26" lengthAdjust="spacingAndGlyphs">User</text>
<text x="76.18" y="276" font-size="19.5" font-weight="bold" fill="#fff" stroke="#fff" stroke-width="0.1" textLength="261.33" lengthAdjust="spacingAndGlyphs">Performance data collection /</text>
<text x="131.68" y="302.2" font-size="19.5" font-weight="bold" fill="#fff" stroke="#fff" stroke-width="0.1" textLength="151.66" lengthAdjust="spacingAndGlyphs">Event processing</text>
<text x="422.98" y="275.9" font-size="19.5" font-weight="bold" fill="#fff" stroke="#fff" stroke-width="0.1" textLength="180.62" lengthAdjust="spacingAndGlyphs">Log data Collection /</text>
<text x="435.35" y="301.6" font-size="19.5" font-weight="bold" fill="#fff" stroke="#fff" stroke-width="0.1" textLength="152.27" lengthAdjust="spacingAndGlyphs">Event processing</text>
<text x="77.88" y="417.6" font-size="15.8" font-weight="bold" fill="#111" stroke="#111" stroke-width="0.1" textLength="110.23" lengthAdjust="spacingAndGlyphs">Data Collector</text>
<text x="305.88" y="417.6" font-size="15.8" font-weight="bold" fill="#111" stroke="#111" stroke-width="0.1" textLength="110.23" lengthAdjust="spacingAndGlyphs">Data Collector</text>
<text x="533.88" y="417.6" font-size="15.8" font-weight="bold" fill="#111" stroke="#111" stroke-width="0.1" textLength="110.23" lengthAdjust="spacingAndGlyphs">Data Collector</text>
<text x="41.88" y="497.9" font-size="14.6" font-weight="normal" fill="#111" stroke="#111" stroke-width="0.25" textLength="69.34" lengthAdjust="spacingAndGlyphs">Metricbeat</text>
<text x="157.99" y="488" font-size="14.6" font-weight="normal" fill="#111" stroke="#111" stroke-width="0.25" textLength="57.13" lengthAdjust="spacingAndGlyphs">Filebeat/</text>
<text x="150.09" y="507.6" font-size="14.6" font-weight="normal" fill="#111" stroke="#111" stroke-width="0.25" textLength="73.91" lengthAdjust="spacingAndGlyphs">Winlogbeat</text>
<text x="383.68" y="499.7" font-size="16" font-weight="normal" fill="#111" stroke="#111" stroke-width="0.25" textLength="59.84" lengthAdjust="spacingAndGlyphs">Filebeat</text>
<text x="86.08" y="597.2" font-size="14.6" font-weight="normal" fill="#111" stroke="#111" stroke-width="0.25" textLength="92.24" lengthAdjust="spacingAndGlyphs">Virtual Server,</text>
<text x="48.37" y="616.6" font-size="14.6" font-weight="normal" fill="#111" stroke="#111" stroke-width="0.25" textLength="169.09" lengthAdjust="spacingAndGlyphs">Bare Metal Server, DB, · · ·</text>
<text x="273.28" y="608.8" font-size="16" font-weight="normal" fill="#111" stroke="#111" stroke-width="0.25" textLength="173.77" lengthAdjust="spacingAndGlyphs">Kubernetes Engine, · · ·</text>
<text x="549.27" y="597.6" font-size="14.6" font-weight="normal" fill="#111" stroke="#111" stroke-width="0.25" textLength="80.79" lengthAdjust="spacingAndGlyphs">File Storage,</text>
<text x="511.58" y="618" font-size="14.6" font-weight="normal" fill="#111" stroke="#111" stroke-width="0.25" textLength="152.36" lengthAdjust="spacingAndGlyphs">Load Balancer, VPC, · · ·</text>
<text x="21.29" y="659.5" font-size="14.6" font-weight="normal" fill="#111" stroke="#111" stroke-width="0.25" textLength="419.71" lengthAdjust="spacingAndGlyphs">* Related services to Cloud Monitoring will continue to be added.</text>
</svg>
</body></html>
